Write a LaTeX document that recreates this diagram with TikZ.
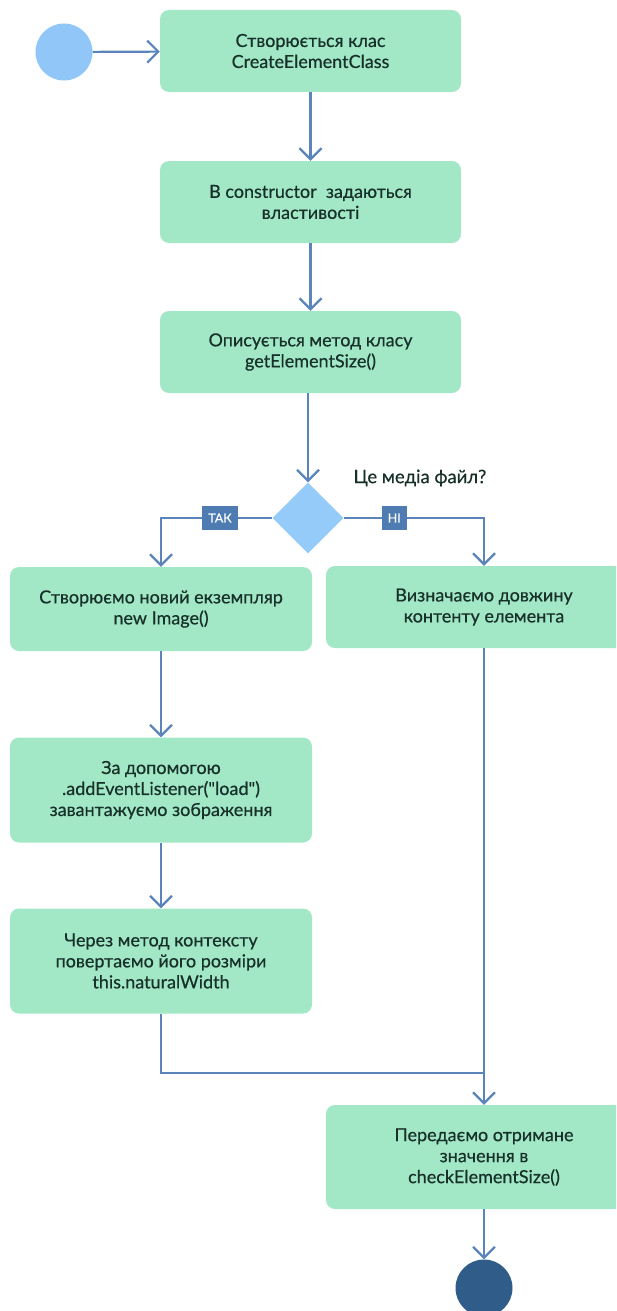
\documentclass[tikz,border=0pt]{standalone}
\usepackage{fontspec}
\setmainfont{Lato}
\newfontfamily\boxfont{Lato}[FakeBold=0.5]
\usetikzlibrary{arrows.meta,shapes.geometric}

\definecolor{boxfill}{HTML}{A2E8C6}
\definecolor{boxtext}{HTML}{18302A}
\definecolor{flow}{HTML}{5A84BA}
\definecolor{startfill}{HTML}{90C6F8}
\definecolor{endfill}{HTML}{305C8A}
\definecolor{tagfill}{HTML}{4E7CB2}
\definecolor{decfill}{HTML}{94CBF8}

\tikzset{
  action/.style={draw=none, fill=boxfill, rounded corners=9pt, inner sep=0pt,
    text=boxtext, align=center, font=\boxfont\fontsize{18}{21}\selectfont},
  flowline/.style={draw=flow, line width=2.2pt},
  flowarrow/.style={flowline, -{Straight Barb[length=11pt,width=22pt,line width=2.2pt]}},
  tag/.style={fill=tagfill, text=white, inner xsep=6pt, inner ysep=0pt,
    minimum height=24pt, font=\boxfont\fontsize{12.5}{14}\selectfont},
}

\begin{document}
\begin{tikzpicture}[x=1pt,y=-1pt]
\useasboundingbox (0,0) rectangle (616,1311);
\begin{scope}
\clip (0,0) rectangle (616,1311);

% start and end states
\node[circle, fill=startfill, minimum size=57pt, inner sep=0pt] (start) at (64,52) {};
\node[circle, fill=endfill, minimum size=57pt, inner sep=0pt] (stop) at (484,1288) {};

% action boxes
\node[action, minimum width=301pt, minimum height=82pt] (create) at (310.5,51) {Створюється клас\\CreateElementClass};
\node[action, minimum width=301pt, minimum height=82pt] (ctor) at (310.5,202) {В constructor\ \ задаються\\властивості};
\node[action, minimum width=301pt, minimum height=82pt] (method) at (310.5,352) {Описується метод класу\\getElementSize()};
\node[action, minimum width=302pt, minimum height=84pt] (newimg) at (161,609) {Створюємо новий екземпляр\\new Image()};
\node[action, minimum width=316pt, minimum height=82pt] (length) at (484,607) {Визначаємо довжину\\контенту елемента};
\node[action, minimum width=302pt, minimum height=105pt] (load) at (161,790) {За допомогою\\.addEventListener("load")\\завантажуємо зображення};
\node[action, minimum width=302pt, minimum height=105pt] (size) at (161,961) {Через метод контексту\\повертаємо його розміри\\this.naturalWidth};
\node[action, minimum width=316pt, minimum height=104pt] (pass) at (484,1157) {Передаємо отримане\\значення в\\checkElementSize()};

% decision
\node[diamond, fill=decfill, minimum width=71pt, minimum height=71pt, inner sep=0pt] (dec) at (308,518) {};
\node[font=\boxfont\fontsize{18.5}{21}\selectfont, text=boxtext, anchor=west] (question) at (350,478) {Це медіа файл?};

% junction where both branches meet
\coordinate (join) at (484,1073);

% connectors
\draw[flowarrow] (start) -- (create);
\draw[flowarrow] (create) -- (ctor);
\draw[flowarrow] (ctor) -- (method);
\draw[flowarrow] (method.south -| dec) -- (dec.north);
\draw[flowarrow] (dec.west) -| node[tag, pos=0.235] (yes) {ТАК} (newimg.north);
\draw[flowarrow] (dec.east) -| node[tag, pos=0.18] (no) {НІ} (length.north);
\draw[flowarrow] (newimg) -- (load);
\draw[flowarrow] (load) -- (size);
\draw[flowline] (size.south) |- (join);
\draw[flowarrow] (length.south) -- (pass.north);
\draw[flowarrow] (pass) -- (stop);
\end{scope}
\end{tikzpicture}
\end{document}
